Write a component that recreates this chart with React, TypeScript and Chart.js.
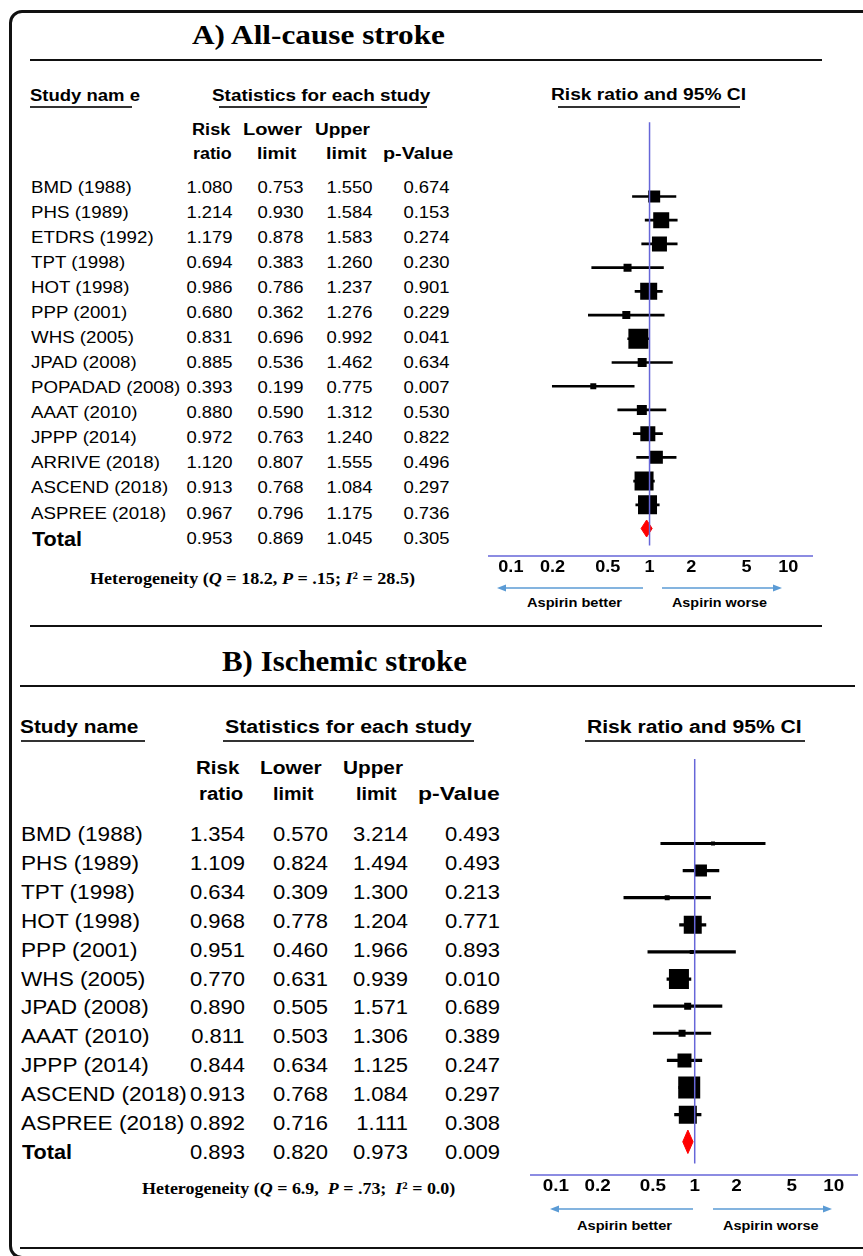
import React, { useEffect, useLayoutEffect, useRef } from "react";
import { Chart, registerables } from "chart.js";

Chart.register(...registerables);

// ---------------- data ----------------
const studiesA = ["BMD (1988)", "PHS (1989)", "ETDRS (1992)", "TPT (1998)", "HOT (1998)", "PPP (2001)", "WHS (2005)", "JPAD (2008)", "POPADAD (2008)", "AAAT (2010)", "JPPP (2014)", "ARRIVE (2018)", "ASCEND (2018)", "ASPREE (2018)"];
const rrA = [1.080, 1.214, 1.179, 0.694, 0.986, 0.680, 0.831, 0.885, 0.393, 0.880, 0.972, 1.120, 0.913, 0.967];
const lowerA = [0.753, 0.930, 0.878, 0.383, 0.786, 0.362, 0.696, 0.536, 0.199, 0.590, 0.763, 0.807, 0.768, 0.796];
const upperA = [1.550, 1.584, 1.583, 1.260, 1.237, 1.276, 0.992, 1.462, 0.775, 1.312, 1.240, 1.555, 1.084, 1.175];
const pValA = ["0.674", "0.153", "0.274", "0.230", "0.901", "0.229", "0.041", "0.634", "0.007", "0.530", "0.822", "0.496", "0.297", "0.736"];
const weightA = [12, 16, 15, 8, 17, 8, 20, 9, 6, 10, 15, 13, 19, 19];
const totalA = [0.953, 0.869, 1.045];
const totalPA = "0.305";

const studiesB = ["BMD (1988)", "PHS (1989)", "TPT (1998)", "HOT (1998)", "PPP (2001)", "WHS (2005)", "JPAD (2008)", "AAAT (2010)", "JPPP (2014)", "ASCEND (2018)", "ASPREE (2018)"];
const rrB = [1.354, 1.109, 0.634, 0.968, 0.951, 0.770, 0.890, 0.811, 0.844, 0.913, 0.892];
const lowerB = [0.570, 0.824, 0.309, 0.778, 0.460, 0.631, 0.505, 0.503, 0.634, 0.768, 0.716];
const upperB = [3.214, 1.494, 1.300, 1.204, 1.966, 0.939, 1.571, 1.306, 1.125, 1.084, 1.111];
const pValB = ["0.493", "0.493", "0.213", "0.771", "0.893", "0.010", "0.689", "0.389", "0.247", "0.297", "0.308"];
const weightB = [4, 12, 5, 18, 4, 20, 7, 7, 14, 22, 18];
const totalB = [0.893, 0.820, 0.973];
const totalPB = "0.009";

const tickValues = [0.1, 0.2, 0.5, 1, 2, 5, 10];
const tickLabels = ["0.1", "0.2", "0.5", "1", "2", "5", "10"];

// ---------------- layout / style ----------------
const W = 863;
const H = 1256;
const SANS = "Arial, 'Liberation Sans', sans-serif";
const SERIF = "'Times New Roman', 'Liberation Serif', serif";
const REF_BLUE = "#6666d8";
const ARROW_BLUE = "#5b9bd5";

type Geom = {
  left: number; top: number; width: number; height: number;
  oneX: number; decade: number; row0: number; rowH: number;
  refTop: number; axisY: number; axisX1: number; axisX2: number;
  tickY: number; tickSize: number; tickSx: number;
  arrowY: number; arrowL: number[]; arrowR: number[];
  diamondHalf: number; ciWidth: number;
};

const GEOM_A: Geom = {
  left: 470, top: 90, width: 360, height: 535,
  oneX: 649.5, decade: 150.5, row0: 187.5, rowH: 25.04,
  refTop: 109, axisY: 556, axisX1: 488, axisX2: 813,
  tickY: 566, tickSize: 16, tickSx: 1.13,
  arrowY: 588, arrowL: [643, 497], arrowR: [662, 782],
  diamondHalf: 9, ciWidth: 2,
};

const GEOM_B: Geom = {
  left: 500, top: 735, width: 362, height: 505,
  oneX: 696, decade: 152, row0: 834, rowH: 28.9,
  refTop: 744, axisY: 1175, axisX1: 530, axisX2: 858,
  tickY: 1185.5, tickSize: 16, tickSx: 1.18,
  arrowY: 1209, arrowL: [693, 550], arrowR: [713, 832],
  diamondHalf: 12.5, ciWidth: 2.5,
};

// ---------------- text helpers ----------------
function FitText(props: { x1: number; x2: number; y: number; size: number; family?: string; weight?: string; pre?: boolean; children: React.ReactNode }) {
  const { x1, x2, y, size, family = SANS, weight = "bold", pre = false, children } = props;
  const ref = useRef<HTMLDivElement>(null);
  useLayoutEffect(() => {
    const el = ref.current;
    if (!el) return;
    el.style.transform = "none";
    const w = el.getBoundingClientRect().width;
    if (w > 0) el.style.transform = `scaleX(${(x2 - x1) / w})`;
  });
  return (
    <div
      ref={ref}
      style={{
        position: "absolute", left: x1, top: y - size / 2, fontSize: size, lineHeight: `${size}px`,
        fontFamily: family, fontWeight: weight as any, whiteSpace: pre ? "pre" : "nowrap",
        transformOrigin: "0 50%", color: "#000",
      }}
    >
      {children}
    </div>
  );
}

function Cell(props: { x: number; y: number; size: number; sx?: number; anchor?: "l" | "r"; weight?: string; children: React.ReactNode }) {
  const { x, y, size, sx = 1, anchor = "l", weight = "normal", children } = props;
  const style: React.CSSProperties = {
    position: "absolute", top: y - size / 2, fontSize: size, lineHeight: `${size}px`,
    fontFamily: SANS, fontWeight: weight as any, whiteSpace: "nowrap", color: "#000",
    transform: `scaleX(${sx})`, transformOrigin: anchor === "r" ? "100% 50%" : "0 50%",
  };
  if (anchor === "r") style.right = W - x;
  else style.left = x;
  return <div style={style}>{children}</div>;
}

function HLine(props: { x1: number; x2: number; y: number; h?: number; color?: string }) {
  const { x1, x2, y, h = 2.5, color = "#111" } = props;
  return <div style={{ position: "absolute", left: x1, top: y - h / 2, width: x2 - x1, height: h, background: color }} />;
}

// ---------------- forest chart ----------------
function ForestChart(props: { rr: number[]; lo: number[]; hi: number[]; weights: number[]; total: number[]; g: Geom }) {
  const { rr, lo, hi, weights, total, g } = props;
  const ref = useRef<HTMLCanvasElement>(null);
  useEffect(() => {
    const canvas = ref.current;
    if (!canvas) return;
    const n = rr.length;
    const toRow = (py: number) => (py - g.row0) / g.rowH;
    const xMin = Math.pow(10, (g.left - g.oneX) / g.decade);
    const xMax = Math.pow(10, (g.left + g.width - g.oneX) / g.decade);
    const dh = g.diamondHalf / g.rowH;

    const axisPlugin = {
      id: "forestAxis",
      afterDraw(chart: any) {
        const ctx = chart.ctx as CanvasRenderingContext2D;
        const xs = chart.scales.x;
        const ay = g.axisY - g.top;
        ctx.save();
        ctx.strokeStyle = REF_BLUE;
        ctx.lineWidth = 1.6;
        ctx.beginPath();
        ctx.moveTo(g.axisX1 - g.left, ay);
        ctx.lineTo(g.axisX2 - g.left, ay);
        ctx.stroke();

        ctx.fillStyle = "#000";
        ctx.font = `bold ${g.tickSize}px ${SANS}`;
        ctx.textAlign = "center";
        ctx.textBaseline = "alphabetic";
        tickValues.forEach((v, i) => {
          const px = xs.getPixelForValue(v);
          ctx.save();
          ctx.translate(px, g.tickY - g.top + 0.358 * g.tickSize);
          ctx.scale(g.tickSx, 1);
          ctx.fillText(tickLabels[i], 0, 0);
          ctx.restore();
        });

        ctx.strokeStyle = ARROW_BLUE;
        ctx.fillStyle = ARROW_BLUE;
        ctx.lineWidth = 1.5;
        const arrow = (from: number, to: number) => {
          const y = g.arrowY - g.top;
          const x0 = from - g.left;
          const x1 = to - g.left;
          const dir = Math.sign(x1 - x0);
          ctx.beginPath();
          ctx.moveTo(x0, y);
          ctx.lineTo(x1 - dir * 7, y);
          ctx.stroke();
          ctx.beginPath();
          ctx.moveTo(x1, y);
          ctx.lineTo(x1 - dir * 9, y - 3.5);
          ctx.lineTo(x1 - dir * 9, y + 3.5);
          ctx.closePath();
          ctx.fill();
        };
        arrow(g.arrowL[0], g.arrowL[1]);
        arrow(g.arrowR[0], g.arrowR[1]);
        ctx.restore();
      },
    };

    const chart = new Chart(canvas, {
      type: "scatter",
      data: {
        datasets: [
          {
            type: "line",
            data: [{ x: 1, y: toRow(g.refTop) }, { x: 1, y: toRow(g.axisY) }],
            borderColor: REF_BLUE,
            borderWidth: 1.5,
            pointRadius: 0,
            showLine: true,
            fill: false,
          } as any,
          {
            type: "scatter",
            data: rr.map((v, i) => ({ x: v, y: i })),
            pointStyle: "rect",
            pointRadius: weights.map((w) => w / Math.SQRT2),
            pointHoverRadius: weights.map((w) => w / Math.SQRT2),
            backgroundColor: "#000",
            pointBackgroundColor: "#000",
            borderWidth: 0,
            pointBorderWidth: 0,
          } as any,
          {
            type: "bar",
            indexAxis: "y",
            data: lo.map((l, i) => ({ x: [l, hi[i]], y: i })),
            barThickness: g.ciWidth,
            backgroundColor: "#000",
            borderWidth: 0,
          } as any,
          {
            type: "line",
            data: [
              { x: total[1], y: n },
              { x: total[0], y: n - dh },
              { x: total[2], y: n },
              { x: total[0], y: n + dh },
              { x: total[1], y: n },
            ],
            borderColor: "#ff0000",
            backgroundColor: "#ff0000",
            borderWidth: 1,
            pointRadius: 0,
            showLine: true,
            fill: "shape",
          } as any,
        ],
      },
      options: {
        animation: false,
        responsive: false,
        events: [],
        layout: { padding: 0 },
        plugins: { legend: { display: false }, tooltip: { enabled: false } },
        scales: {
          x: { type: "logarithmic", display: false, min: xMin, max: xMax, offset: false, bounds: "data" } as any,
          y: {
            type: "linear", display: false, reverse: true, offset: false, bounds: "data",
            min: toRow(g.top), max: toRow(g.top + g.height),
          } as any,
        },
      },
      plugins: [axisPlugin],
    });
    return () => chart.destroy();
  }, []);
  return (
    <canvas
      ref={ref}
      width={g.width}
      height={g.height}
      style={{ position: "absolute", left: g.left, top: g.top, width: g.width, height: g.height }}
    />
  );
}

// ---------------- app ----------------
const COLS_A = [233, 304, 372.5, 450];
const COLS_B = [245, 328.3, 408.3, 500];

export default function App() {
  useEffect(() => {
    document.body.style.margin = "0";
  }, []);
  const supStyle: React.CSSProperties = { fontSize: "0.6em", lineHeight: 0, verticalAlign: "0.55em" };

  return (
    <div style={{ position: "absolute", left: 0, top: 0, width: W, height: H, overflow: "hidden", background: "#fff" }}>
      {/* frame */}
      <div style={{ position: "absolute", left: 9, top: 9.5, width: 880, height: 1249, border: "3px solid #111", borderRadius: 13, boxSizing: "border-box" }} />

      {/* ---------- Panel A ---------- */}
      <FitText x1={192} x2={445} y={35.5} size={27} family={SERIF}>A) All-cause stroke</FitText>
      <HLine x1={30} x2={822} y={60} />

      <FitText x1={30} x2={140} y={96} size={16}>Study nam e</FitText>
      <HLine x1={30} x2={132} y={107} h={2} color="#333" />
      <FitText x1={211.7} x2={430} y={96} size={16}>Statistics for each study</FitText>
      <HLine x1={219} x2={427} y={107} h={2} color="#333" />
      <FitText x1={191.7} x2={230} y={130} size={16}>Risk</FitText>
      <FitText x1={193} x2={231.7} y={154} size={16}>ratio</FitText>
      <FitText x1={242.7} x2={301.7} y={130} size={16}>Lower</FitText>
      <FitText x1={256.7} x2={296} y={154} size={16}>limit</FitText>
      <FitText x1={315} x2={370} y={130} size={16}>Upper</FitText>
      <FitText x1={326} x2={366.7} y={154} size={16}>limit</FitText>
      <FitText x1={383} x2={453.3} y={154} size={16}>p-Value</FitText>
      <FitText x1={550.7} x2={745.7} y={95} size={16}>Risk ratio and 95% CI</FitText>
      <HLine x1={558} x2={740} y={107} h={2} color="#333" />

      {studiesA.map((s, i) => {
        const y = GEOM_A.row0 + GEOM_A.rowH * i;
        return (
          <React.Fragment key={"a" + i}>
            <Cell x={31} y={y} size={17} sx={1.1}>{s}</Cell>
            <Cell x={COLS_A[0]} y={y} size={17} sx={1.085} anchor="r">{rrA[i].toFixed(3)}</Cell>
            <Cell x={COLS_A[1]} y={y} size={17} sx={1.085} anchor="r">{lowerA[i].toFixed(3)}</Cell>
            <Cell x={COLS_A[2]} y={y} size={17} sx={1.085} anchor="r">{upperA[i].toFixed(3)}</Cell>
            <Cell x={COLS_A[3]} y={y} size={17} sx={1.085} anchor="r">{pValA[i]}</Cell>
          </React.Fragment>
        );
      })}
      {(() => {
        const y = GEOM_A.row0 + GEOM_A.rowH * studiesA.length;
        return (
          <>
            <FitText x1={31.7} x2={81.7} y={y + 0.5} size={20}>Total</FitText>
            <Cell x={COLS_A[0]} y={y} size={17} sx={1.085} anchor="r">{totalA[0].toFixed(3)}</Cell>
            <Cell x={COLS_A[1]} y={y} size={17} sx={1.085} anchor="r">{totalA[1].toFixed(3)}</Cell>
            <Cell x={COLS_A[2]} y={y} size={17} sx={1.085} anchor="r">{totalA[2].toFixed(3)}</Cell>
            <Cell x={COLS_A[3]} y={y} size={17} sx={1.085} anchor="r">{totalPA}</Cell>
          </>
        );
      })()}
      <FitText x1={90} x2={415} y={579} size={16} family={SERIF}>
        Heterogeneity (<i>Q</i> = 18.2, <i>P</i> = .15; <i>I</i><span style={supStyle}>2</span> = 28.5)
      </FitText>
      <FitText x1={526.7} x2={621.7} y={602.3} size={13}>Aspirin better</FitText>
      <FitText x1={672.3} x2={767.3} y={602.3} size={13}>Aspirin worse</FitText>
      <ForestChart rr={rrA} lo={lowerA} hi={upperA} weights={weightA} total={totalA} g={GEOM_A} />

      <HLine x1={30} x2={822} y={626} />

      {/* ---------- Panel B ---------- */}
      <FitText x1={222} x2={467} y={662} size={28.5} family={SERIF}>B) Ischemic stroke</FitText>
      <HLine x1={20} x2={855} y={686} />

      <FitText x1={20} x2={138.3} y={726.7} size={18}>Study name</FitText>
      <HLine x1={20.7} x2={145} y={740.7} h={2} color="#333" />
      <FitText x1={225} x2={471.7} y={726.7} size={18}>Statistics for each study</FitText>
      <HLine x1={223} x2={474} y={740.7} h={2} color="#333" />
      <FitText x1={196} x2={239.3} y={768.3} size={18}>Risk</FitText>
      <FitText x1={199} x2={243.3} y={794.3} size={18}>ratio</FitText>
      <FitText x1={260} x2={321.7} y={768.3} size={18}>Lower</FitText>
      <FitText x1={272.7} x2={313.3} y={794.3} size={18}>limit</FitText>
      <FitText x1={343.3} x2={403.3} y={768.3} size={18}>Upper</FitText>
      <FitText x1={356} x2={396.7} y={794.3} size={18}>limit</FitText>
      <FitText x1={418.3} x2={500} y={794.3} size={18}>p-Value</FitText>
      <FitText x1={587} x2={801.7} y={726.7} size={18}>Risk ratio and 95% CI</FitText>
      <HLine x1={585} x2={805} y={740.7} h={2} color="#333" />

      {studiesB.map((s, i) => {
        const y = GEOM_B.row0 + GEOM_B.rowH * i;
        return (
          <React.Fragment key={"b" + i}>
            <Cell x={20.5} y={y} size={20} sx={1.13}>{s}</Cell>
            <Cell x={COLS_B[0]} y={y} size={20} sx={1.1} anchor="r">{rrB[i].toFixed(3)}</Cell>
            <Cell x={COLS_B[1]} y={y} size={20} sx={1.1} anchor="r">{lowerB[i].toFixed(3)}</Cell>
            <Cell x={COLS_B[2]} y={y} size={20} sx={1.1} anchor="r">{upperB[i].toFixed(3)}</Cell>
            <Cell x={COLS_B[3]} y={y} size={20} sx={1.1} anchor="r">{pValB[i]}</Cell>
          </React.Fragment>
        );
      })}
      {(() => {
        const y = GEOM_B.row0 + GEOM_B.rowH * studiesB.length;
        return (
          <>
            <FitText x1={21.7} x2={71.7} y={y} size={20}>Total</FitText>
            <Cell x={COLS_B[0]} y={y} size={20} sx={1.1} anchor="r">{totalB[0].toFixed(3)}</Cell>
            <Cell x={COLS_B[1]} y={y} size={20} sx={1.1} anchor="r">{totalB[1].toFixed(3)}</Cell>
            <Cell x={COLS_B[2]} y={y} size={20} sx={1.1} anchor="r">{totalB[2].toFixed(3)}</Cell>
            <Cell x={COLS_B[3]} y={y} size={20} sx={1.1} anchor="r">{totalPB}</Cell>
          </>
        );
      })()}
      <FitText x1={141.7} x2={455} y={1189.3} size={16} family={SERIF} pre>
        Heterogeneity (<i>Q</i> = 6.9,  <i>P</i> = .73;  <i>I</i><span style={supStyle}>2</span> = 0.0)
      </FitText>
      <FitText x1={577.3} x2={672.3} y={1225.7} size={13}>Aspirin better</FitText>
      <FitText x1={722.7} x2={818.3} y={1225.7} size={13}>Aspirin worse</FitText>
      <ForestChart rr={rrB} lo={lowerB} hi={upperB} weights={weightB} total={totalB} g={GEOM_B} />

      <HLine x1={20} x2={863} y={1248} />
    </div>
  );
}
